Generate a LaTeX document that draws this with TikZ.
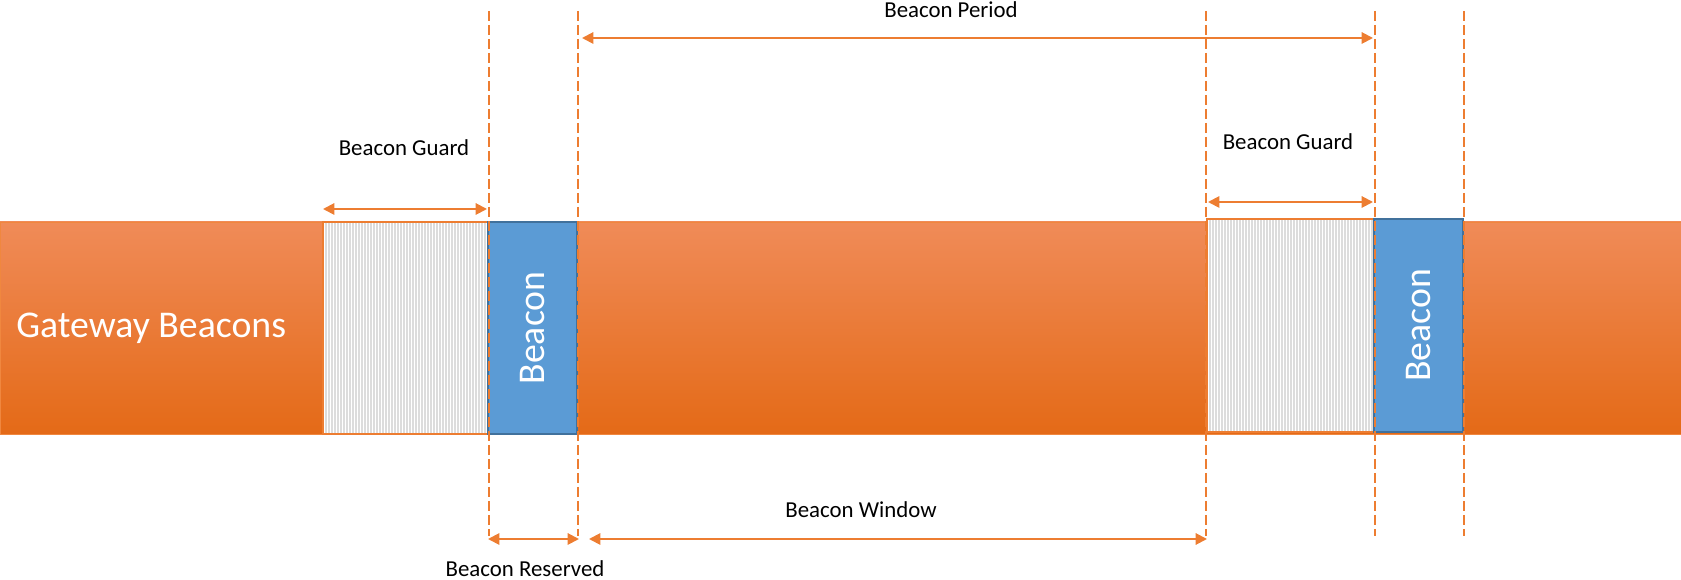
\documentclass[tikz,border=0pt]{standalone}
\usepackage{fontspec}
\setmainfont{Carlito}
\usetikzlibrary{arrows.meta,fit}

\definecolor{lineOrange}{HTML}{ED7D31}
\definecolor{barTop}{HTML}{F08B58}
\definecolor{barMid}{HTML}{F47F2C}
\definecolor{barBottom}{HTML}{E46A17}
\definecolor{barEdge}{HTML}{F0873F}
\definecolor{beaconBlue}{HTML}{5B9BD5}
\definecolor{beaconEdge}{HTML}{41719C}
\definecolor{stripeGray}{HTML}{DCDCDC}

\tikzset{
  dimarrow/.style={draw=lineOrange,line width=1.1pt,
    {Triangle[length=6.5pt,width=6.5pt]}-{Triangle[length=6.5pt,width=6.5pt]}},
  guide/.style={draw=lineOrange,line width=1.1pt,dash pattern=on 0.2cm off 0.08cm},
  dimtext/.style={font=\fontsize{13}{15}\selectfont,text=black,inner sep=0pt},
  stripe/.style={draw=stripeGray,line width=0.03cm},
  guardbox/.style={draw=lineOrange,line width=1.1pt,fill=white,inner sep=0pt,
    path picture={
      \foreach \s in {3,6,...,168}
        \draw[stripe] ([xshift=\s*0.02cm]path picture bounding box.north west)
          -- ([xshift=\s*0.02cm]path picture bounding box.south west);
    }},
  beaconbox/.style={draw=beaconEdge,line width=1pt,fill=beaconBlue,inner sep=0pt},
  whitetext/.style={font=\fontsize{21.5}{25}\selectfont,text=white,inner sep=0pt}
}

\begin{document}
\begin{tikzpicture}[x=0.02cm,y=-0.02cm]
  \useasboundingbox (0,0) rectangle (1681,580);

  % the time line
  \node[fit={(0,222) (1681,434)},inner sep=0pt,draw=barEdge,line width=0.5pt,
        top color=barTop,middle color=barMid,bottom color=barBottom] (bar) {};
  \node[whitetext,anchor=west] (barText) at (16,328) {Gateway Beacons};

  \node[guardbox,fit={(323,222) (488,434)}]   (guardL)  {};
  \node[beaconbox,fit={(488,222) (577,434)}]  (beaconL) {};
  \node[guardbox,fit={(1207,219) (1374,432)}] (guardR)  {};
  \node[beaconbox,fit={(1374,219) (1463,432)}] (beaconR) {};
  \node[whitetext,rotate=90] (beaconTextL) at (beaconL.center) {Beacon};
  \node[whitetext,rotate=90] (beaconTextR) at (beaconR.center) {Beacon};

  % guide lines
  \coordinate (guideTop) at (0,11);
  \coordinate (guideBottom) at (0,536);
  \foreach \g in {guardL.east,beaconL.east,guardR.west,guardR.east,beaconR.east}
    \draw[guide] (\g |- guideTop) -- (\g |- guideBottom);

  % dimensions
  \coordinate (periodStart) at (582,38);
  \coordinate (periodEnd)   at (1373,38);
  \coordinate (guardLStart) at (323,209);
  \coordinate (guardLEnd)   at (487,209);
  \coordinate (guardRStart) at (1208,202);
  \coordinate (guardREnd)   at (1373,202);
  \coordinate (reservedStart) at (488,539);
  \coordinate (reservedEnd)   at (579,539);
  \coordinate (windowStart) at (589,539);
  \coordinate (windowEnd)   at (1207,539);

  \draw[dimarrow] (periodStart) -- (periodEnd);
  \draw[dimarrow] (guardLStart) -- (guardLEnd);
  \draw[dimarrow] (guardRStart) -- (guardREnd);
  \draw[dimarrow] (reservedStart) -- (reservedEnd);
  \draw[dimarrow] (windowStart) -- (windowEnd);

  \node[dimtext] (periodText)   at (951,10)   {Beacon Period};
  \node[dimtext] (guardTextL)   at (404,148)  {Beacon Guard};
  \node[dimtext] (guardTextR)   at (1288,142) {Beacon Guard};
  \node[dimtext] (windowText)   at (861,510)  {Beacon Window};
  \node[dimtext] (reservedText) at (525,569)  {Beacon Reserved};
\end{tikzpicture}
\end{document}
